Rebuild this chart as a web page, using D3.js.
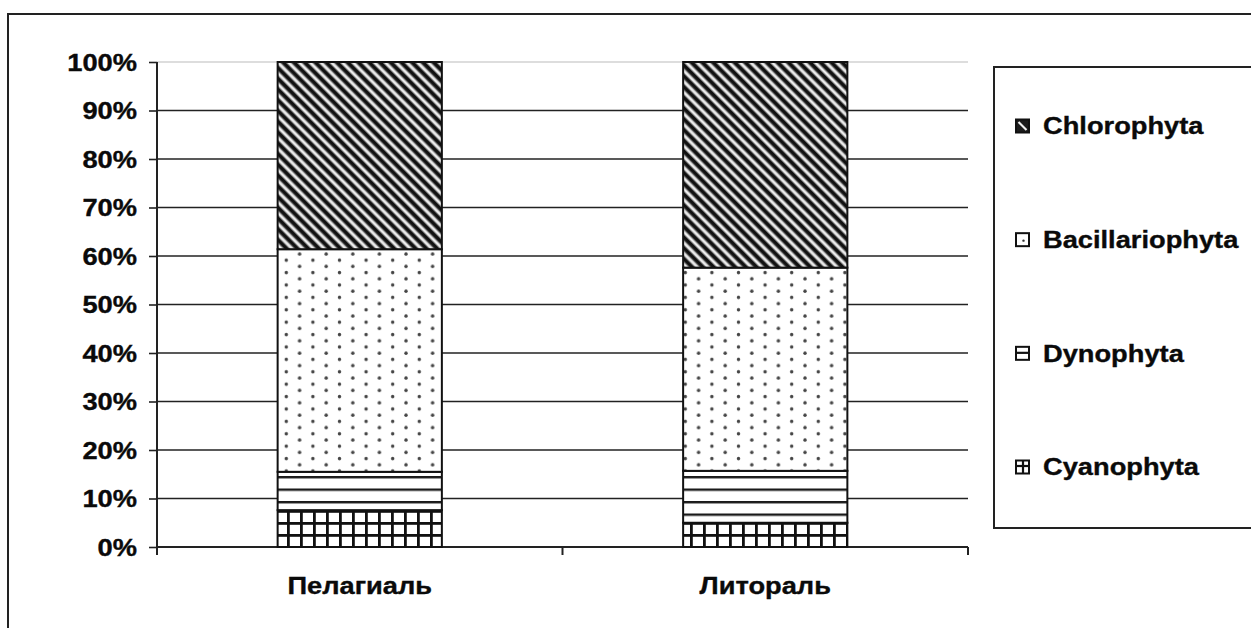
<!DOCTYPE html>
<html>
<head>
<meta charset="utf-8">
<script src="https://cdn.jsdelivr.net/npm/d3@7"></script>
<style>
  html, body { margin: 0; padding: 0; background: #fff; }
  svg { display: block; }
  text { font-family: "Liberation Sans", Arial, sans-serif; font-weight: bold; fill: #0a0a0a; stroke: #0a0a0a; stroke-width: 0.35px; }
</style>
</head>
<body>
<svg id="chart" width="1251" height="628"></svg>
<script>
// Phytoplankton group composition, % of total, by habitat zone
const categories = ["Пелагиаль", "Литораль"];
const seriesNames = ["Cyanophyta", "Dynophyta", "Bacillariophyta", "Chlorophyta"];
const cyanophyta = [7.6, 5.0];
const dynophyta = [7.9, 10.7];
const bacillariophyta = [45.9, 41.9];
const chlorophyta = [38.6, 42.4];
const yTicks = [0, 10, 20, 30, 40, 50, 60, 70, 80, 90, 100];
const yTickLabels = ["0%", "10%", "20%", "30%", "40%", "50%", "60%", "70%", "80%", "90%", "100%"];
const legendOrder = ["Chlorophyta", "Bacillariophyta", "Dynophyta", "Cyanophyta"];

const rows = categories.map((c, i) => ({
  category: c,
  Cyanophyta: cyanophyta[i],
  Dynophyta: dynophyta[i],
  Bacillariophyta: bacillariophyta[i],
  Chlorophyta: chlorophyta[i]
}));

const svg = d3.select("#chart");
const TEXT_STRETCH = 1.16;
const FONT = "23.5px";

// outer frame
svg.append("rect")
  .attr("x", 8).attr("y", 14).attr("width", 1270).attr("height", 640)
  .attr("fill", "none").attr("stroke", "#222").attr("stroke-width", 2);

// ---------- fill patterns ----------
const defs = svg.append("defs");

// Cyanophyta: square grid
const pGrid = defs.append("pattern").attr("id", "pat-cyan")
  .attr("patternUnits", "userSpaceOnUse").attr("width", 13).attr("height", 12)
  .attr("x", 1).attr("y", 6);
pGrid.append("rect").attr("width", 13).attr("height", 12).attr("fill", "#fff");
pGrid.append("rect").attr("x", 0).attr("y", 0).attr("width", 2.8).attr("height", 12).attr("fill", "#111");
pGrid.append("rect").attr("x", 0).attr("y", 0).attr("width", 13).attr("height", 2.8).attr("fill", "#111");

// Dynophyta: horizontal lines
const pHor = defs.append("pattern").attr("id", "pat-dyno")
  .attr("patternUnits", "userSpaceOnUse").attr("width", 20).attr("height", 12.5)
  .attr("x", 0).attr("y", 1);
pHor.append("rect").attr("width", 20).attr("height", 12.5).attr("fill", "#fff");
pHor.append("rect").attr("x", 0).attr("y", 0).attr("width", 20).attr("height", 2.4).attr("fill", "#1a1a1a");

// Bacillariophyta: staggered dots
const pDot = defs.append("pattern").attr("id", "pat-bac")
  .attr("patternUnits", "userSpaceOnUse").attr("width", 26.6).attr("height", 12.4)
  .attr("x", 4).attr("y", 3);
pDot.append("rect").attr("width", 26.6).attr("height", 12.4).attr("fill", "#fff");
pDot.append("circle").attr("cx", 3).attr("cy", 3).attr("r", 1.7).attr("fill", "#444");
pDot.append("circle").attr("cx", 16.3).attr("cy", 9.2).attr("r", 1.7).attr("fill", "#444");

// Chlorophyta: dense diagonal stripes
const stripeGrad = defs.append("linearGradient").attr("id", "stripe-grad")
  .attr("x1", 0).attr("x2", 1).attr("y1", 0).attr("y2", 0);
[["0%", "#fff"], ["15%", "#e0e0e0"], ["38%", "#111"], ["70%", "#111"], ["90%", "#ccc"], ["100%", "#fff"]]
  .forEach(([o, c]) => stripeGrad.append("stop").attr("offset", o).attr("stop-color", c));
const pDiag = defs.append("pattern").attr("id", "pat-chloro")
  .attr("patternUnits", "userSpaceOnUse").attr("width", 7.6).attr("height", 20)
  .attr("patternTransform", "rotate(-45)");
pDiag.append("rect").attr("width", 7.6).attr("height", 20).attr("fill", "url(#stripe-grad)");

const fills = {
  Cyanophyta: "url(#pat-cyan)",
  Dynophyta: "url(#pat-dyno)",
  Bacillariophyta: "url(#pat-bac)",
  Chlorophyta: "url(#pat-chloro)"
};

// ---------- scales ----------
const x = d3.scaleBand().domain(categories).range([157, 968])
  .paddingInner(0.595).paddingOuter(0.2975);
const y = d3.scaleLinear().domain([0, 100]).range([547, 62]);

// gridlines
svg.append("g").selectAll("line").data(yTicks.filter(t => t > 0)).join("line")
  .attr("x1", 157).attr("x2", 968)
  .attr("y1", d => y(d)).attr("y2", d => y(d))
  .attr("stroke", d => d === 100 ? "#bbb" : "#222").attr("stroke-width", d => d === 100 ? 1 : 1.6);

// y axis
const yAxis = svg.append("g").attr("transform", "translate(157,0)")
  .call(d3.axisLeft(y).tickValues(yTicks).tickSize(8).tickPadding(0).tickFormat(() => ""));
yAxis.select(".domain").attr("d", "M0,62V555").attr("stroke", "#222").attr("stroke-width", 2);
yAxis.selectAll(".tick line").attr("stroke", "#222").attr("stroke-width", 1.6);
yAxis.selectAll(".tick").append("g")
  .attr("transform", `translate(-20,0) scale(${TEXT_STRETCH},1)`)
  .append("text")
  .attr("text-anchor", "end").attr("dy", "0.36em")
  .style("font-size", FONT)
  .text((d, i) => yTickLabels[i]);

// x axis
const xAxis = svg.append("g").attr("transform", "translate(0,547)");
xAxis.append("line").attr("x1", 157).attr("x2", 968).attr("y1", 0).attr("y2", 0)
  .attr("stroke", "#222").attr("stroke-width", 2);
const xBounds = [157, 157 + x.step(), 968];
xAxis.selectAll("line.tk").data(xBounds).join("line").attr("class", "tk")
  .attr("x1", d => d).attr("x2", d => d).attr("y1", 0).attr("y2", 8)
  .attr("stroke", "#222").attr("stroke-width", 2);
xAxis.selectAll("g.lbl").data(categories).join("g").attr("class", "lbl")
  .attr("transform", d => `translate(${x(d) + x.bandwidth() / 2},47) scale(${TEXT_STRETCH},1)`)
  .append("text").attr("text-anchor", "middle")
  .style("font-size", FONT).text(d => d);

// ---------- stacked bars ----------
const stacked = d3.stack().keys(seriesNames)(rows);
const layers = svg.append("g").selectAll("g.layer").data(stacked).join("g").attr("class", "layer")
  .attr("fill", d => fills[d.key]);
layers.selectAll("rect").data(d => d).join("rect")
  .attr("x", d => x(d.data.category))
  .attr("width", x.bandwidth())
  .attr("y", d => y(d[1]))
  .attr("height", d => y(d[0]) - y(d[1]))
  .attr("stroke", "#111").attr("stroke-width", 2);

// ---------- legend ----------
const legend = svg.append("g");
legend.append("rect").attr("x", 994).attr("y", 67).attr("width", 300).attr("height", 461)
  .attr("fill", "#fff").attr("stroke", "#222").attr("stroke-width", 2);

const legendY = d3.scalePoint().domain(legendOrder).range([126, 467]);
const items = legend.selectAll("g.item").data(legendOrder).join("g").attr("class", "item")
  .attr("transform", d => `translate(1016,${legendY(d)})`);

const S = 13;
items.append("rect").attr("x", 0).attr("y", -S / 2).attr("width", S).attr("height", S)
  .attr("fill", d => d === "Chlorophyta" ? "#1c1c1c" : "#fff")
  .attr("stroke", "#111").attr("stroke-width", 2);
// miniature swatches
items.filter(d => d === "Chlorophyta").append("line")
  .attr("x1", 2.5).attr("y1", -4).attr("x2", 10.5).attr("y2", 4).attr("stroke", "#f2f2f2").attr("stroke-width", 2.2);
items.filter(d => d === "Bacillariophyta").append("circle")
  .attr("cx", 7.5).attr("cy", 1).attr("r", 1.2).attr("fill", "#333");
items.filter(d => d === "Dynophyta").append("line")
  .attr("x1", 0).attr("x2", S).attr("y1", -0.5).attr("y2", -0.5).attr("stroke", "#111").attr("stroke-width", 2.2);
items.filter(d => d === "Cyanophyta").append("line")
  .attr("x1", 0).attr("x2", S).attr("y1", -1).attr("y2", -1).attr("stroke", "#111").attr("stroke-width", 2.2);
items.filter(d => d === "Cyanophyta").append("line")
  .attr("x1", 7).attr("x2", 7).attr("y1", -S / 2).attr("y2", S / 2).attr("stroke", "#111").attr("stroke-width", 2.2);

items.append("g").attr("transform", `translate(27,0) scale(${TEXT_STRETCH},1)`)
  .append("text").attr("dy", "0.36em").style("font-size", FONT).text(d => d);
</script>
</body>
</html>
